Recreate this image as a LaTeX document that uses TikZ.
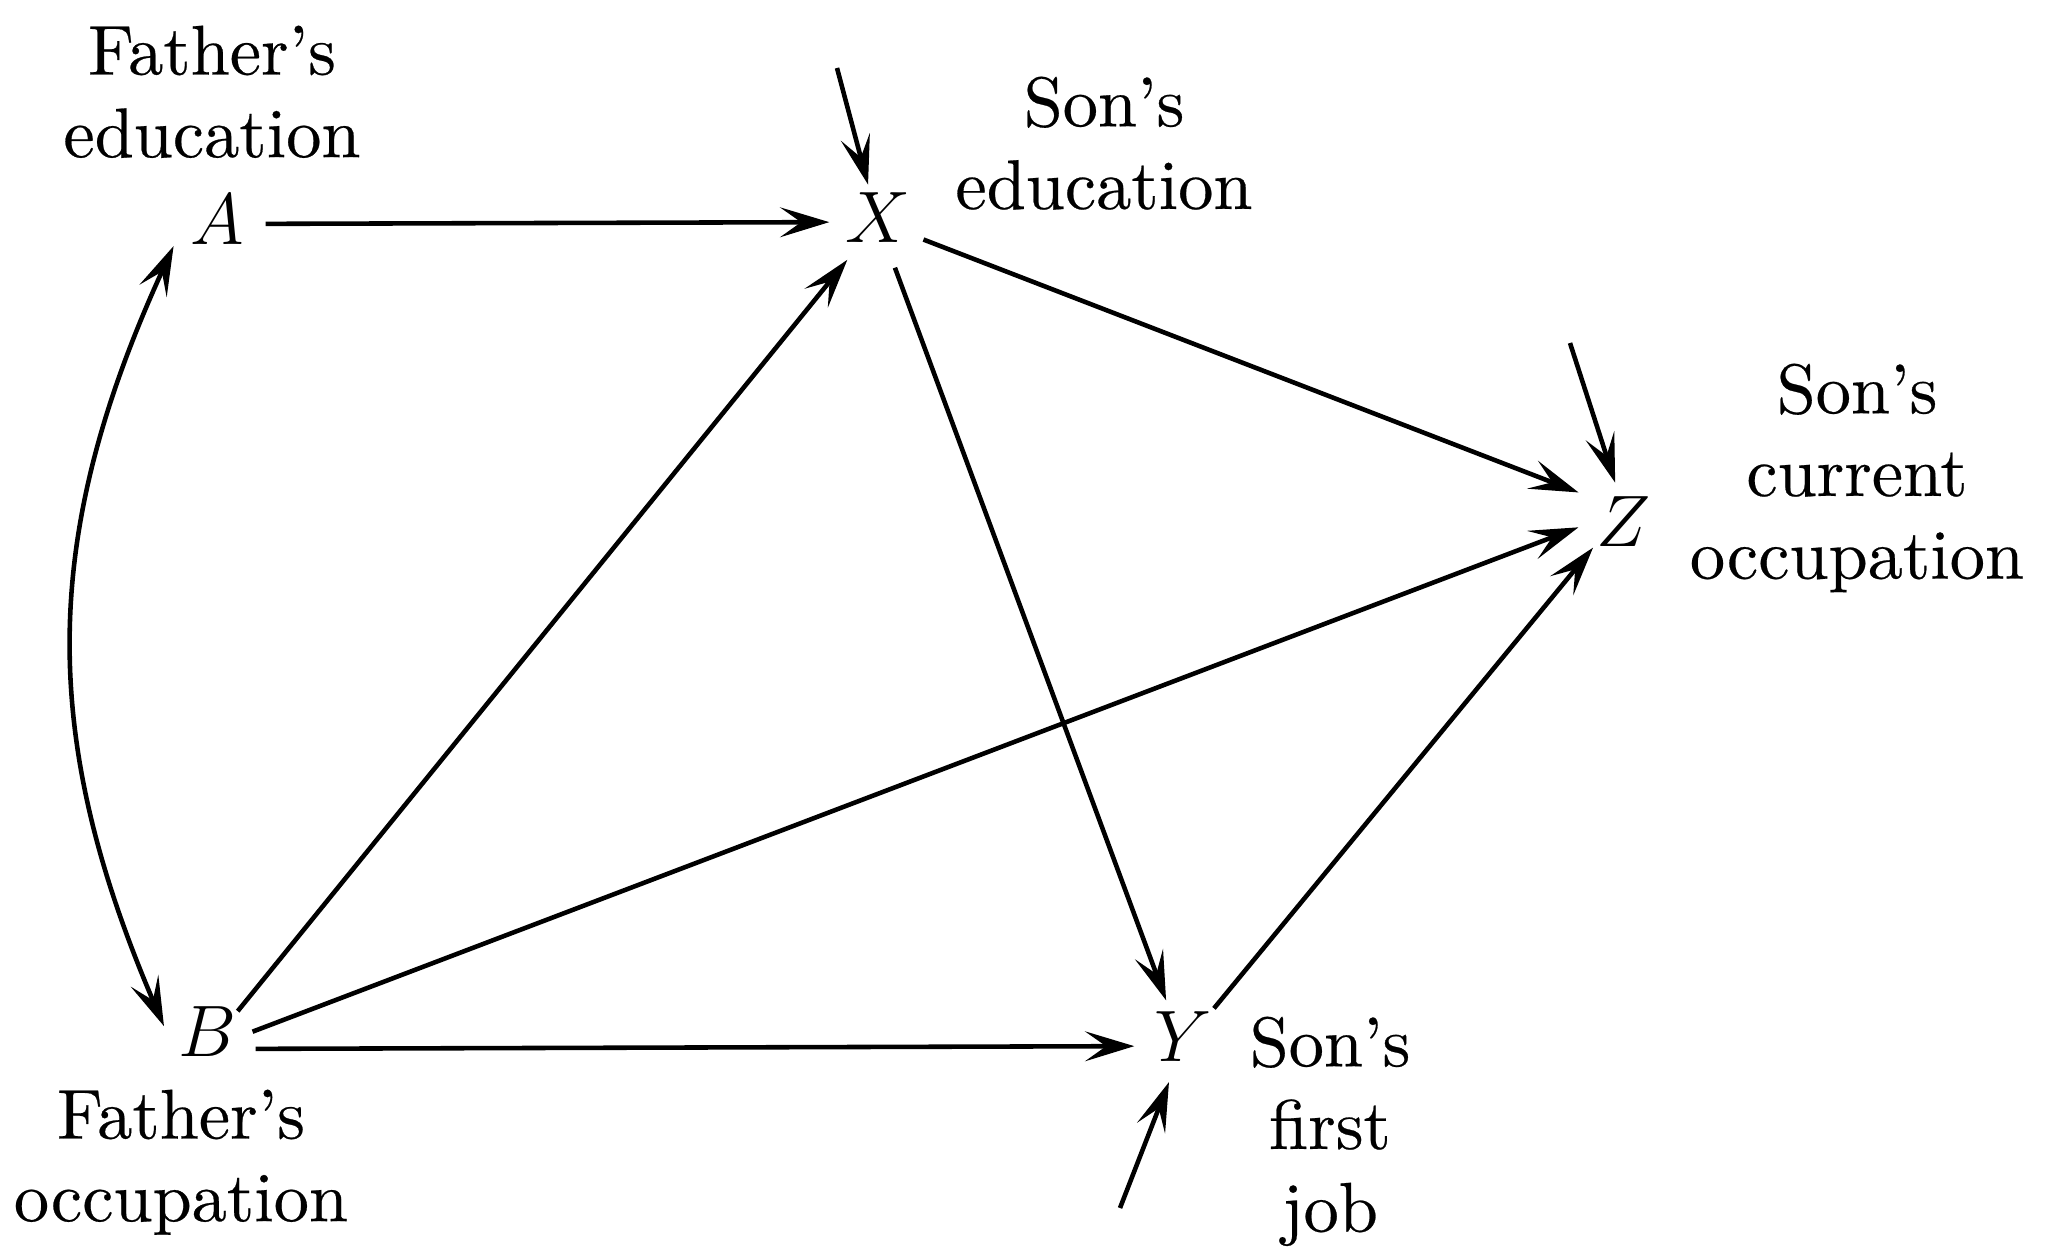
\documentclass[tikz,border=0pt]{standalone}
\usepackage{amsmath,amssymb}
\usepackage{fontspec}
\usepackage{tikz}
\usetikzlibrary{arrows.meta}
\newfontfamily\lblfont{lmroman10-regular}[Extension=.otf, Ligatures=TeX, BoldFont=lmroman10-regular, BoldFeatures={FakeBold=0.35}]

\begin{document}
\begin{tikzpicture}[x=0.01cm, y=-0.01cm,
  font=\fontsize{20}{23.5}\selectfont,
  var/.style={circle, minimum size=0.96cm, inner sep=0pt},
  lbl/.style={align=center, inner sep=0pt, anchor=north, font=\fontsize{20}{23.5}\lblfont\bfseries},
  arr/.style={line width=1.3pt, -{Stealth[length=14pt, width=8.5pt, inset=6pt]}},
  arrboth/.style={line width=1.3pt, {Stealth[length=14pt, width=8.5pt, inset=6pt]}-{Stealth[length=14pt, width=8.5pt, inset=6pt]}}]
\useasboundingbox (0,0) rectangle (2066,1258);
% variables
\node[var, label={[yshift=0.04cm]center:$A$}] (A) at (217,224) {};
\node[var, label={[yshift=0.04cm]center:$X$}] (X) at (878,222) {};
\node[var, label={[yshift=-0.12cm]center:$Z$}] (Z) at (1624,510) {};
\node[var, label={[yshift=0.09cm]center:$Y$}] (Y) at (1183,1046) {};
\node[var, label={[yshift=0.17cm]center:$B$}] (B) at (207,1049) {};
% texts
\node[lbl] (fedu) at (212,25) {Father’s\\education};
\node[lbl] (sedu) at (1104,76) {Son’s\\education};
\node[lbl] (socc) at (1857,363) {Son’s\\current\\occupation};
\node[lbl] (focc) at (181,1089) {Father’s\\occupation};
\node[lbl] (sjob) at (1330,1016) {Son’s\\first\\job};
% residual ends
\coordinate (eX) at (837,68);
\coordinate (eZ) at (1570,343);
\coordinate (eY) at (1120,1208);
% paths
\draw[arr] (A) -- (X);
\draw[arr] (B) -- (X);
\draw[arr] (X) -- (Z);
\draw[arr] (X) -- (Y);
\draw[arr] (B) -- (Z);
\draw[arr] (B) -- (Y);
\draw[arr] (Y) -- (Z);
\draw[arr, shorten >=-1mm] (eX) -- (X);
\draw[arr, shorten >=-2mm] (eZ) -- (Z);
\draw[arr, shorten >=-1mm] (eY) -- (Y);
\draw[arrboth] (A.207) .. controls (40,538) and (40,737) .. (B.152);
\end{tikzpicture}
\end{document}
